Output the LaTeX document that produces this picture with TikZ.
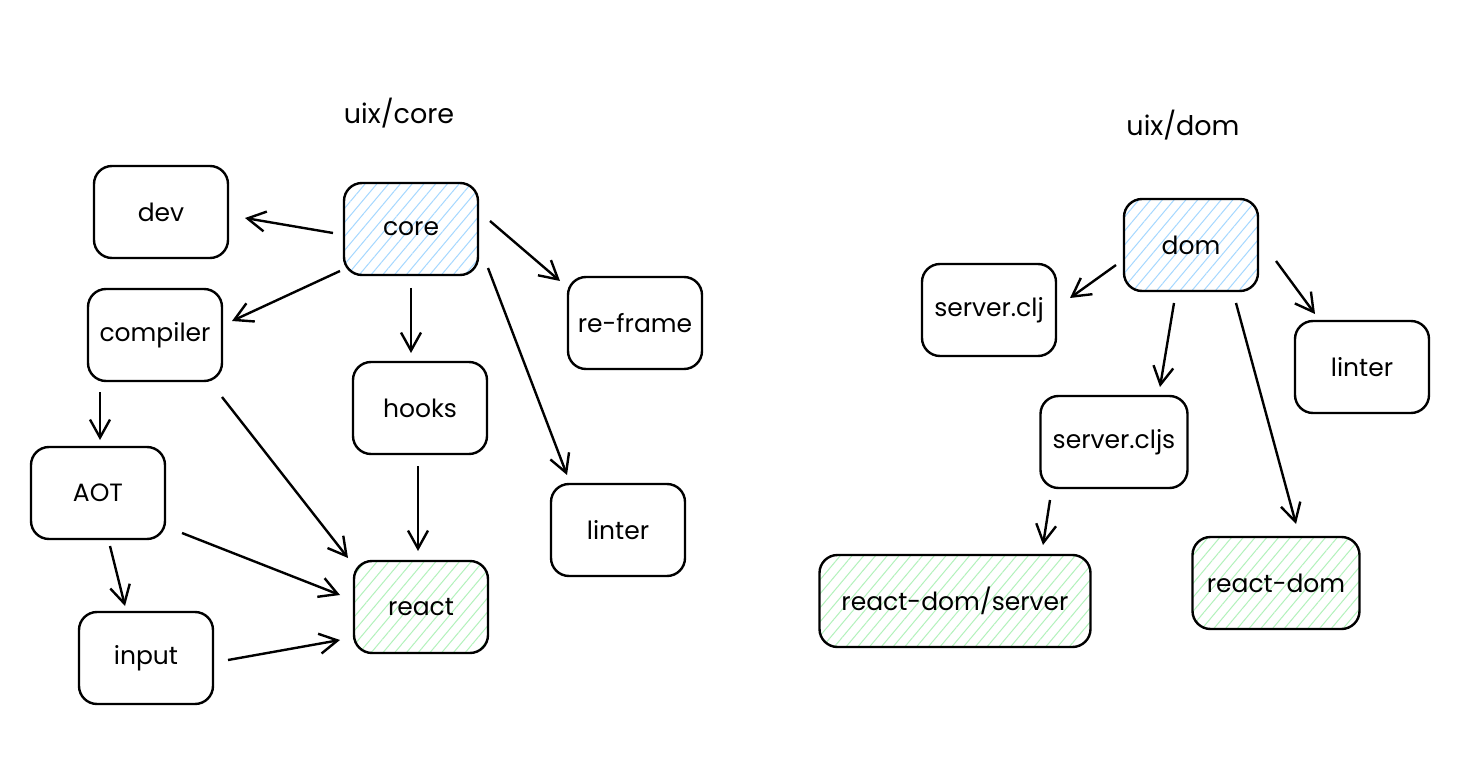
\documentclass[tikz,border=0pt]{standalone}
\usepackage{fontspec}
\setmainfont{Poppins}
\usetikzlibrary{arrows.meta,patterns.meta,calc}
\definecolor{hatchblue}{HTML}{A5D8FF}
\definecolor{hatchgreen}{HTML}{B2F2BB}
\tikzset{
  box/.style={draw=black, line width=1.2pt, rounded corners=9pt, minimum width=67pt, minimum height=46pt, inner sep=2pt, font=\fontsize{12.5}{15}\selectfont},
  bluebox/.style={box, pattern={Lines[angle=50,distance=4.5pt,line width=0.5pt]}, pattern color=hatchblue},
  greenbox/.style={box, pattern={Lines[angle=50,distance=4.5pt,line width=0.5pt]}, pattern color=hatchgreen},
  title/.style={font=\fontsize{13.5}{16}\selectfont},
  arr/.style={line width=1.2pt, -{Straight Barb[length=9pt,width=10pt,line width=1.2pt]}}
}
\begin{document}
\begin{tikzpicture}[x=0.5pt,y=-0.5pt]
\fill[white] (0,0) rectangle (1472,759);
\useasboundingbox (0,0) rectangle (1472,759);
% left group
\node[title] (t1) at (399,113) {uix/core};
\node[box] (dev) at (161,212) {dev};
\node[bluebox] (core) at (411,229) {core};
\node[box] (compiler) at (155,335) {compiler};
\node[box] (reframe) at (635,323) {re-frame};
\node[box] (hooks) at (420,408) {hooks};
\node[box] (aot) at (98,493) {AOT};
\node[box] (linterL) at (618,530) {linter};
\node[greenbox] (react) at (421,607) {react};
\node[box] (input) at (146,658) {input};
% right group
\node[title] (t2) at (1183,125) {uix/dom};
\node[bluebox] (dom) at (1191,245) {dom};
\node[box] (sclj) at (989,310) {server.clj};
\node[box] (linterR) at (1362,367) {linter};
\node[box, minimum width=73.5pt] (scljs) at (1114,442) {server.cljs};
\node[greenbox, minimum width=135.5pt] (rds) at (955,601) {react-dom/server};
\node[greenbox, minimum width=83.5pt] (rdom) at (1276,583) {react-dom};
% arrows left
\draw[arr] ($(core)+(-78,4)$) -- ($(dev)+(84,6)$);
\draw[arr] ($(core)+(-71,42)$) -- ($(compiler)+(77,-14)$);
\draw[arr] ($(core)+(79,-8)$) -- ($(reframe)+(-75,-42)$);
\draw[arr] ($(core)+(0,59)$) -- ($(hooks)+(-9,-55)$);
\draw[arr] ($(core)+(77,39)$) -- ($(linterL)+(-51,-55)$);
\draw[arr] ($(compiler)+(-55,57)$) -- ($(aot)+(2,-53)$);
\draw[arr] ($(compiler)+(67,62)$) -- ($(react)+(-73,-49)$);
\draw[arr] ($(hooks)+(-2,58)$) -- ($(react)+(-3,-56)$);
\draw[arr] ($(aot)+(12,53)$) -- ($(input)+(-21,-52)$);
\draw[arr] ($(aot)+(84,40)$) -- ($(react)+(-81,-12)$);
\draw[arr] ($(input)+(82,2)$) -- ($(react)+(-81,33)$);
% arrows right
\draw[arr] ($(dom)+(-75,20)$) -- ($(sclj)+(81,-12)$);
\draw[arr] ($(dom)+(-17,58)$) -- ($(scljs)+(46,-55)$);
\draw[arr] ($(dom)+(85,16)$) -- ($(linterR)+(-47,-53)$);
\draw[arr] ($(dom)+(45,58)$) -- ($(rdom)+(20,-59)$);
\draw[arr] ($(scljs)+(-64,58)$) -- ($(rds)+(88,-56)$);
\end{tikzpicture}
\end{document}
